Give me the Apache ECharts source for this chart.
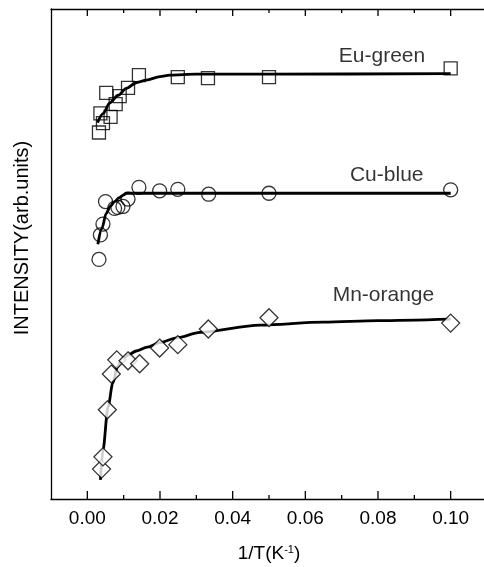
<!DOCTYPE html>
<html>
<head>
<meta charset="utf-8">
<script src="https://cdn.jsdelivr.net/npm/echarts@6/dist/echarts.min.js"></script>
<style>html,body{margin:0;padding:0;background:#fff}#c{width:484px;height:567px}</style>
</head>
<body>
<div id="c"></div>
<script>
// ---- data ----
var seriesNames = ['Eu-green', 'Cu-blue', 'Mn-orange'];

var euX = [0.0032, 0.0036, 0.0043, 0.0052, 0.0064, 0.0078, 0.0089, 0.0112, 0.0142, 0.0249, 0.0332, 0.05, 0.1];
var euY = [74.8, 78.7, 76.7, 82.9, 78.0, 80.6, 82.2, 83.9, 86.5, 86.1, 85.9, 86.1, 87.9];
var euFitX = [0.0028, 0.0044, 0.0061, 0.0085, 0.0107, 0.0136, 0.0162, 0.02, 0.0227, 0.03, 0.05, 0.1];
var euFitY = [76.8, 78.7, 80.8, 82.4, 83.8, 85.0, 85.5, 86.2, 86.5, 86.7, 86.7, 86.8];

var cuX = [0.0032, 0.0036, 0.0043, 0.005, 0.0075, 0.0084, 0.0098, 0.0112, 0.0142, 0.0199, 0.0249, 0.0334, 0.05, 0.1];
var cuY = [48.9, 53.9, 56.1, 60.7, 59.3, 59.5, 59.7, 61.2, 63.6, 62.9, 63.2, 62.2, 62.4, 63.1];
var cuFitX = [0.0029, 0.004, 0.0052, 0.0063, 0.0075, 0.0088, 0.0099, 0.0108, 0.013, 0.02, 0.05, 0.1];
var cuFitY = [52.0, 55.2, 58.3, 59.7, 60.7, 61.5, 62.0, 62.4, 62.4, 62.4, 62.4, 62.4];

var mnX = [0.0039, 0.0043, 0.0055, 0.0066, 0.0081, 0.0112, 0.0144, 0.0199, 0.0249, 0.0333, 0.05, 0.1];
var mnY = [6.1, 8.6, 18.2, 25.5, 28.4, 28.2, 27.6, 30.8, 31.5, 34.7, 37.0, 35.9];
var mnFitX = [0.0036, 0.0043, 0.0057, 0.007, 0.0083, 0.0095, 0.0112, 0.0135, 0.0165, 0.0199, 0.0246, 0.031, 0.0475, 0.065, 0.08, 0.1];
var mnFitY = [3.9, 10.0, 18.8, 23.6, 27.0, 28.5, 29.4, 30.2, 31.0, 31.9, 32.9, 34.0, 35.5, 36.1, 36.4, 36.7];

var labelX = [0.0811, 0.0824, 0.0815];
var labelY = [90.4, 66.1, 41.6];

// axis: frame from -0.01 to 0.11, labelled ticks every 0.02 from 0, minor every 0.01
var xMin = -0.01, xMax = 0.11;
var xMajorMin = 0, xMajorMax = 0.12, xMajor = 0.02;
var majorTickValues = [0, 0.02, 0.04, 0.06, 0.08, 0.10];
var minorTickValues = [0.01, 0.03, 0.05, 0.07, 0.09];
var yMin = 0, yMax = 100;

function pairs(xs, ys) { return xs.map(function (x, i) { return [x, ys[i]]; }); }

var FONT = '"Liberation Sans", Arial, sans-serif';
var lineW = 1.3;
var gridLeft = 51, gridWidth = 436, gridTop = 9, gridHeight = 490;
var pxPerUnit = gridWidth / (xMax - xMin);
var g1Left = gridLeft + (xMajorMin - xMin) * pxPerUnit;

var tickStyle = { color: '#000', width: lineW };

var chart = echarts.init(document.getElementById('c'), null, { renderer: 'canvas' });

var fitStyle = { color: '#000', width: 2.8 };
function fitSeries(xs, ys) {
  return { type: 'line', xAxisIndex: 0, yAxisIndex: 0, data: pairs(xs, ys), showSymbol: false, symbol: 'none',
    smooth: 0.3, smoothMonotone: 'x', lineStyle: fitStyle, silent: true, z: 2 };
}
function ptSeries(name, xs, ys, sym, size, fill) {
  return { type: 'scatter', name: name, xAxisIndex: 0, yAxisIndex: 0, data: pairs(xs, ys), symbol: sym, symbolSize: size,
    itemStyle: { color: fill, borderColor: '#000', borderWidth: 1.3 }, z: 3 };
}

var tickData = majorTickValues.map(function (v) { return [v, 1]; })
  .concat(minorTickValues.map(function (v) { return [v, 0]; }));

function renderTick(params, api) {
  var v = api.value(0);
  var major = api.value(1) === 1;
  var pb = api.coord([v, yMin]);
  var pt = api.coord([v, yMax]);
  var lb = major ? 8 : 4, lt = major ? 7 : 4;
  var st = { stroke: '#000', lineWidth: lineW };
  return {
    type: 'group',
    children: [
      { type: 'line', shape: { x1: pb[0], y1: pb[1], x2: pb[0], y2: pb[1] - lb }, style: st },
      { type: 'line', shape: { x1: pt[0], y1: pt[1], x2: pt[0], y2: pt[1] + lt }, style: st }
    ]
  };
}

chart.setOption({
  animation: false,
  backgroundColor: '#fff',
  grid: [
    { left: gridLeft, width: gridWidth, top: gridTop, height: gridHeight, containLabel: false, outerBoundsMode: 'none' },
    { left: g1Left, width: gridWidth, top: gridTop, height: gridHeight, containLabel: false, outerBoundsMode: 'none' }
  ],
  xAxis: [
    { // data axis (bottom frame) + title
      type: 'value', gridIndex: 0, position: 'bottom', min: xMin, max: xMax,
      axisLine: { show: true, onZero: false, lineStyle: tickStyle },
      axisTick: { show: false }, axisLabel: { show: false }, splitLine: { show: false },
      name: '1/T(K{sup|-1})', nameLocation: 'middle', nameGap: 45,
      nameTextStyle: { color: '#000', fontSize: 19, fontFamily: FONT,
        rich: { sup: { fontSize: 11, fontFamily: FONT, color: '#000', verticalAlign: 'top', padding: [0, 0, 8, 0] } } }
    },
    { // top frame
      type: 'value', gridIndex: 0, position: 'top', min: xMin, max: xMax,
      axisLine: { show: true, onZero: false, lineStyle: tickStyle },
      axisTick: { show: false }, axisLabel: { show: false }, splitLine: { show: false }
    },
    { // tick labels every 0.02 from 0
      type: 'value', gridIndex: 1, position: 'bottom', min: xMajorMin, max: xMajorMax, interval: xMajor,
      axisLine: { show: false, onZero: false },
      axisTick: { show: false },
      axisLabel: { show: true, margin: 10, color: '#000', fontSize: 19, fontFamily: FONT,
        formatter: function (v) { return v.toFixed(2); } },
      splitLine: { show: false }
    }
  ],
  yAxis: [
    {
      type: 'value', gridIndex: 0, min: yMin, max: yMax, position: 'left',
      axisLine: { show: true, onZero: false, lineStyle: tickStyle },
      axisTick: { show: false }, axisLabel: { show: false }, splitLine: { show: false },
      name: 'INTENSITY(arb.units)', nameLocation: 'middle', nameGap: 19,
      nameTextStyle: { color: '#000', fontSize: 20, fontFamily: FONT, padding: [0, 0, 0, 32] }
    },
    {
      type: 'value', gridIndex: 1, min: yMin, max: yMax, show: false
    }
  ],
  series: [
    { type: 'custom', xAxisIndex: 0, yAxisIndex: 0, data: tickData, renderItem: renderTick, silent: true, z: 1, clip: false },
    fitSeries(euFitX, euFitY),
    fitSeries(cuFitX, cuFitY),
    fitSeries(mnFitX, mnFitY),
    ptSeries(seriesNames[0], euX, euY, 'rect', 13, 'rgba(0,0,0,0)'),
    ptSeries(seriesNames[1], cuX, cuY, 'circle', 14, 'rgba(0,0,0,0)'),
    ptSeries(seriesNames[2], mnX, mnY, 'diamond', 18, '#fff'),
    {
      type: 'scatter', xAxisIndex: 0, yAxisIndex: 0, symbolSize: 0, silent: true, z: 5,
      data: seriesNames.map(function (n, i) { return { value: [labelX[i], labelY[i]], name: n }; }),
      label: { show: true, position: 'inside', formatter: '{b}', color: '#000', fontSize: 21, fontFamily: FONT }
    }
  ]
});
</script>
</body>
</html>
